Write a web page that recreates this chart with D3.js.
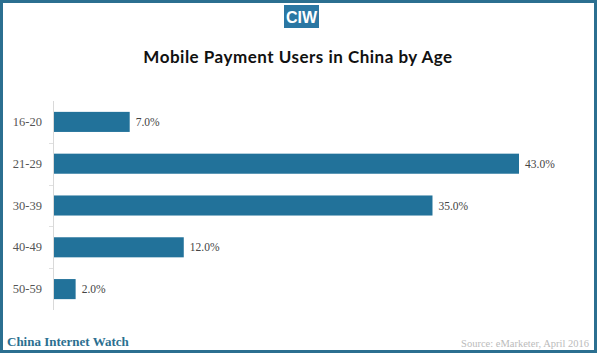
<!DOCTYPE html>
<html>
<head>
<meta charset="utf-8">
<script src="https://cdn.jsdelivr.net/npm/d3@7"></script>
<style>
  html, body { margin: 0; padding: 0; background: #fff; }
  svg { display: block; }
</style>
</head>
<body>
<svg id="chart" width="600" height="356"></svg>
<script>
const categories = ["16-20", "21-29", "30-39", "40-49", "50-59"];
const values = [7.0, 43.0, 35.0, 12.0, 2.0];
const title = "Mobile Payment Users in China by Age";
const brand = "China Internet Watch";
const source = "Source: eMarketer, April 2016";
const logoText = "CIW";

const svg = d3.select("#chart");
const frameColor = "#2b6f90";
const barColor = "#22729a";

// frame
svg.append("rect")
  .attr("x", 1.5).attr("y", 1.5).attr("width", 594).attr("height", 350)
  .attr("fill", "#fff").attr("stroke", frameColor).attr("stroke-width", 3);

// logo
svg.append("rect")
  .attr("x", 284).attr("y", 5).attr("width", 35).attr("height", 23)
  .attr("fill", "#2a77a3");
svg.append("text")
  .attr("x", 301.5).attr("y", 23)
  .attr("text-anchor", "middle")
  .attr("font-family", "'Liberation Sans Narrow', 'Arial Narrow', 'Liberation Sans', sans-serif")
  .attr("font-weight", "bold")
  .attr("font-size", 16)
  .attr("fill", "#fff")
  .text(logoText);

// title
svg.append("text")
  .attr("x", 298).attr("y", 63)
  .attr("text-anchor", "middle")
  .attr("font-family", "Lato, 'Open Sans', sans-serif")
  .attr("font-weight", "bold")
  .attr("font-size", 17)
  .attr("letter-spacing", 0.5)
  .attr("fill", "#111")
  .text(title);

const x = d3.scaleLinear().domain([0, 43]).range([54, 519]);
const y = d3.scaleBand().domain(categories).range([101, 310])
  .paddingInner(0.52).paddingOuter(0.26);

// axis line
svg.append("line")
  .attr("x1", 53.5).attr("x2", 53.5)
  .attr("y1", y.range()[0]).attr("y2", y.range()[1])
  .attr("stroke", "#d9d9d9").attr("stroke-width", 1);

// boundary ticks
const bounds = categories.slice(1).map(c => y(c) - y.step() * y.paddingInner() / 2);
svg.selectAll(".btick").data(bounds).join("line")
  .attr("class", "btick")
  .attr("x1", 49).attr("x2", 53)
  .attr("y1", d => Math.round(d) + 0.5).attr("y2", d => Math.round(d) + 0.5)
  .attr("stroke", "#e0e0e0");

// category labels
const axis = d3.axisLeft(y).tickSize(0).tickPadding(0);
const gAxis = svg.append("g").attr("transform", "translate(42,0)").call(axis);
gAxis.select(".domain").remove();
gAxis.selectAll("text")
  .attr("font-family", "'Liberation Serif', 'Times New Roman', serif")
  .attr("font-size", 12.5)
  .attr("fill", "#555");

// bars
const data = categories.map((c, i) => ({ c, v: values[i] }));
svg.selectAll(".bar").data(data).join("rect")
  .attr("class", "bar")
  .attr("x", x(0))
  .attr("y", d => y(d.c))
  .attr("width", d => x(d.v) - x(0))
  .attr("height", y.bandwidth())
  .attr("fill", barColor);

// value labels
svg.selectAll(".val").data(data).join("text")
  .attr("class", "val")
  .attr("x", d => x(d.v) + 6)
  .attr("y", d => y(d.c) + y.bandwidth() / 2)
  .attr("dy", "0.35em")
  .attr("font-family", "'Liberation Serif', 'Times New Roman', serif")
  .attr("font-size", 11.5)
  .attr("fill", "#444")
  .text(d => d.v.toFixed(1) + "%");

// footer
svg.append("text")
  .attr("x", 7).attr("y", 346)
  .attr("font-family", "'Liberation Serif', 'Times New Roman', serif")
  .attr("font-weight", "bold")
  .attr("font-size", 13)
  .attr("fill", "#2b6f90")
  .text(brand);

svg.append("text")
  .attr("x", 589).attr("y", 347)
  .attr("text-anchor", "end")
  .attr("font-family", "'Liberation Serif', 'Times New Roman', serif")
  .attr("font-size", 10.5)
  .attr("fill", "#bbbbbb")
  .text(source);
</script>
</body>
</html>
